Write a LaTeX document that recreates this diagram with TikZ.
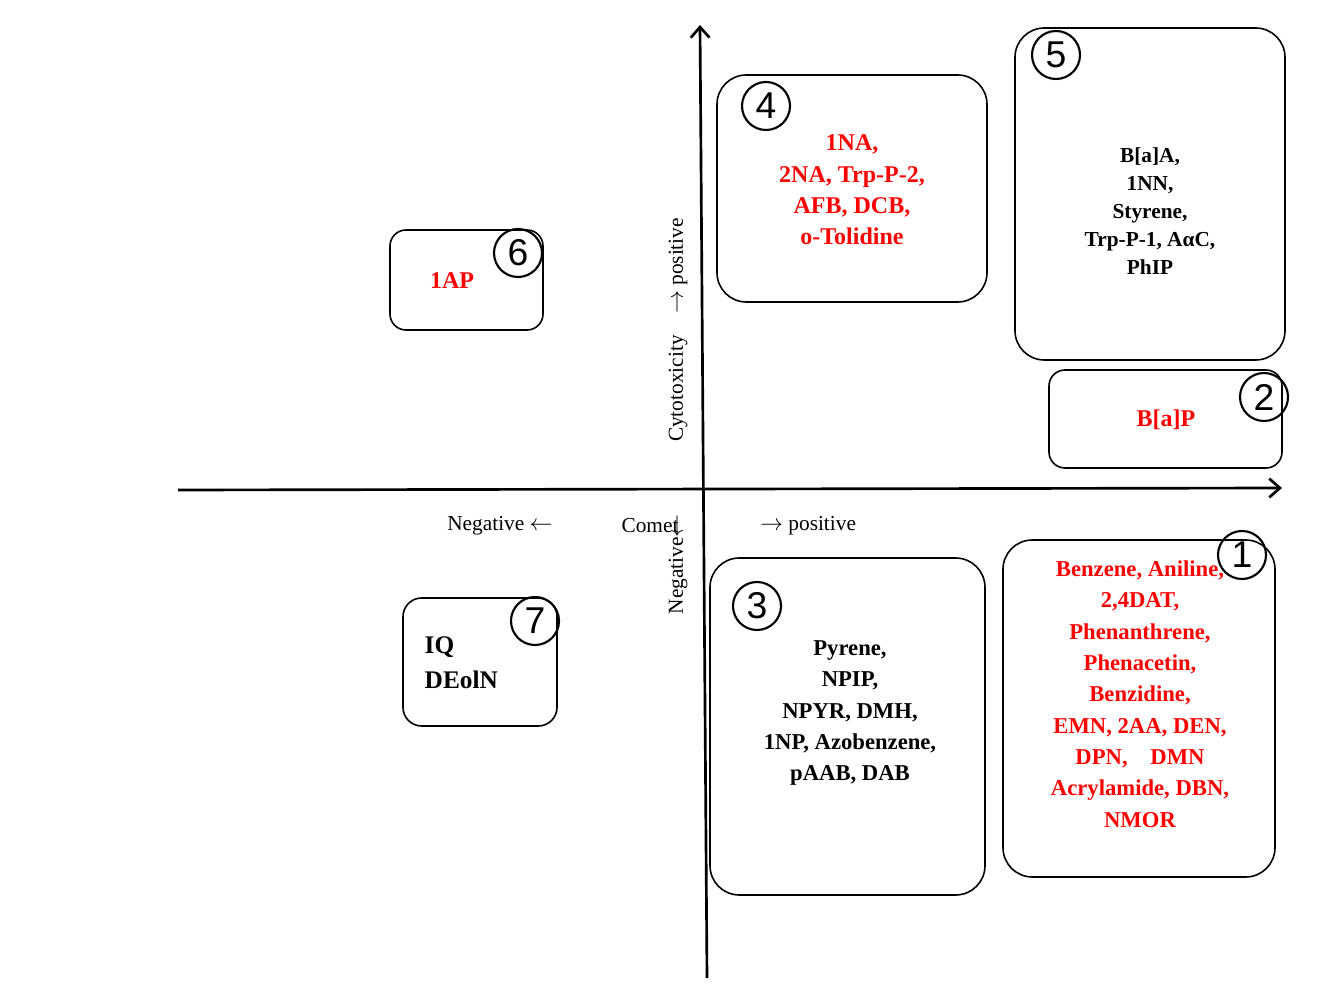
\documentclass[tikz,border=0pt]{standalone}
\usepackage{fontspec}
\usetikzlibrary{arrows.meta}
\setmainfont{Liberation Serif}
\newfontfamily\numfont{Liberation Sans}
\begin{document}
\begin{tikzpicture}[x=0.75pt,y=-0.75pt,
 box/.style={draw,line width=1.2pt,rounded corners=22pt},
 num/.style={draw,circle,line width=1.6pt,minimum size=36pt,inner sep=0pt,font=\numfont\fontsize{28}{28}\selectfont},
 red/.style={text=red,font=\bfseries\fontsize{18}{23.5}\selectfont,align=center},
 blk/.style={font=\bfseries\fontsize{16}{21}\selectfont,align=center},
 lab/.style={font=\fontsize{16}{19}\selectfont}]
\useasboundingbox (0,0) rectangle (1340,1005);
\coordinate (xl) at (178,490); \coordinate (xr) at (1282,488);
\coordinate (yb) at (707,978); \coordinate (yt) at (700,25);
\draw[line width=2pt,-{Straight Barb[length=8pt,width=14pt]}] (xl) -- (xr);
\draw[line width=2pt,-{Straight Barb[length=8pt,width=14pt]}] (yb) -- (yt);
% boxes
\draw[box] (717,75) rectangle (987,302);
\node[num] (n4) at (766,106) {4};
\node[red] (t4) at (852,190) {1NA,\\2NA, Trp-P-2,\\AFB, DCB,\\o-Tolidine};
\draw[box] (1015,28) rectangle (1285,360);
\node[num] (n5) at (1056,55) {5};
\node[blk] (t5) at (1150,211) {B[a]A,\\1NN,\\Styrene,\\Trp-P-1, AαC,\\PhIP};
\draw[box,rounded corners=12pt] (390,230) rectangle (543,330);
\node[num] (n6) at (518,253) {6};
\node[red] (t6) at (452,281) {1AP};
\draw[box,rounded corners=12pt] (1049,370) rectangle (1282,468);
\node[num] (n2) at (1264,397) {2};
\node[red] (t2) at (1166,420) {B[a]P};
\draw[box] (1003,540) rectangle (1275,877);
\node[red,font=\bfseries\fontsize{17}{23.5}\selectfont] (t1) at (1140,694) {Benzene, Aniline,\\2,4DAT,\\Phenanthrene,\\Phenacetin,\\Benzidine,\\EMN, 2AA, DEN,\\DPN,\quad DMN\\Acrylamide, DBN,\\NMOR};
\node[num] (n1) at (1242,555) {1};
\draw[box] (710,558) rectangle (985,895);
\node[num] (n3) at (757,606) {3};
\node[blk,font=\bfseries\fontsize{17}{23.5}\selectfont] (t3) at (850,713) {Pyrene,\\NPIP,\\NPYR, DMH,\\1NP, Azobenzene,\\pAAB, DAB};
\draw[box,rounded corners=14pt] (403,598) rectangle (557,726);
\node[num] (n7) at (535,621) {7};
\node[blk,align=left,anchor=west,font=\bfseries\fontsize{19}{26}\selectfont] (t7) at (420,663) {IQ\\DEolN};
% labels
\node[lab] (l1) at (500,526) {Negative $\leftarrow$};
\node[lab] (l2) at (650,526) {Comet};
\node[lab] (l3) at (808,526) {$\rightarrow$ positive};
\node[lab,rotate=90] (l4) at (678,330) {Cytotoxicity\quad$\rightarrow$ positive};
\node[lab,rotate=90] (l5) at (678,564) {Negative$\leftarrow$};
\end{tikzpicture}
\end{document}
